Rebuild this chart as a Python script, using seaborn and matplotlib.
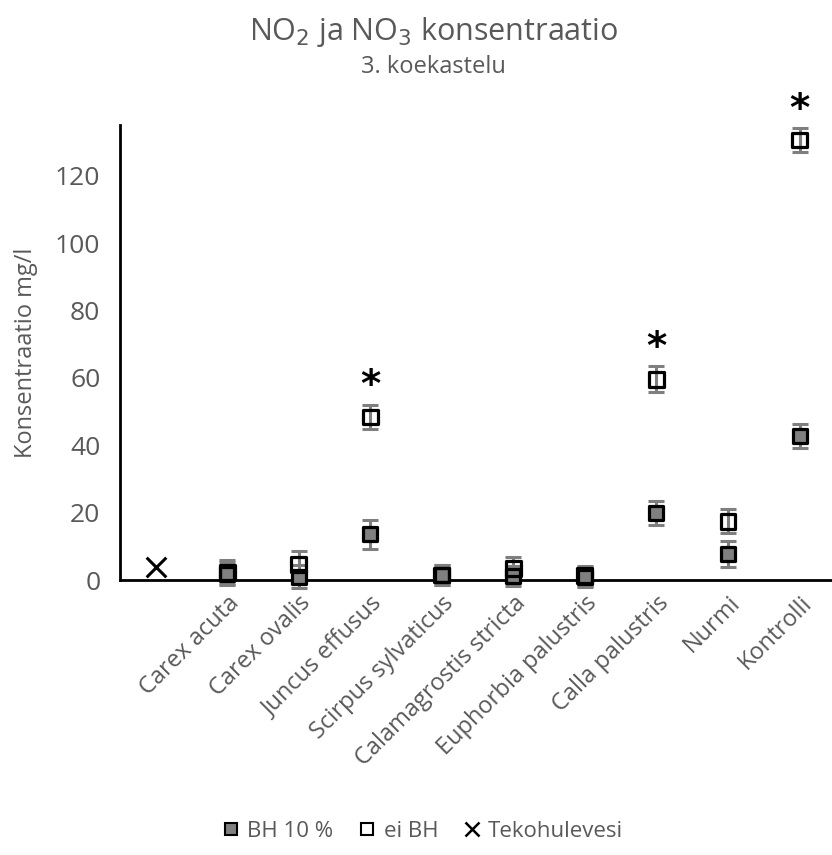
import matplotlib
matplotlib.use("Agg")
import matplotlib.pyplot as plt
import seaborn as sns
import pandas as pd
import numpy as np
from matplotlib.lines import Line2D

categories = ["", "Carex acuta", "Carex ovalis", "Juncus effusus", "Scirpus sylvaticus",
              "Calamagrostis stricta", "Euphorbia palustris", "Calla palustris", "Nurmi", "Kontrolli"]
bh_cats = categories[1:]
bh_vals = [1.9, 1.0, 13.6, 1.5, 1.2, 1.0, 19.8, 7.7, 42.8]
bh_err = [3.5, 3.5, 4.3, 3.0, 3.0, 3.0, 3.6, 3.9, 3.5]
ei_vals = [2.3, 4.5, 48.4, 1.5, 3.5, 1.3, 59.6, 17.5, 130.6]
ei_err = [3.5, 4.0, 3.6, 3.0, 3.3, 3.0, 3.9, 3.6, 3.5]
teko_cat = [""]
teko_val = [4.0]
star_cats = ["Juncus effusus", "Calla palustris", "Kontrolli"]

sns.set_style("white")
plt.rcParams['font.family'] = ['Open Sans', 'DejaVu Sans']
txt = "#595959"

fig = plt.figure(figsize=(8.32, 8.55), dpi=100)
ax = fig.add_axes([0.144, 0.3216, 0.86, 0.532])

df_bh = pd.DataFrame({"cat": pd.Categorical(bh_cats, categories=categories), "val": bh_vals})
df_ei = pd.DataFrame({"cat": pd.Categorical(bh_cats, categories=categories), "val": ei_vals})
df_t = pd.DataFrame({"cat": pd.Categorical(teko_cat, categories=categories), "val": teko_val})

pos = {c: i for i, c in enumerate(categories)}
xb = [pos[c] for c in bh_cats]

ax.errorbar(xb, bh_vals, yerr=bh_err, fmt="none", ecolor="#7f7f7f", elinewidth=2.2,
            capsize=6, capthick=2.2, zorder=2, clip_on=False)
ax.errorbar(xb, ei_vals, yerr=ei_err, fmt="none", ecolor="#7f7f7f", elinewidth=2.2,
            capsize=6, capthick=2.2, zorder=2, clip_on=False)

sns.scatterplot(data=df_bh, x="cat", y="val", ax=ax, marker="s", s=115, color="#808080",
                edgecolor="black", linewidth=2.3, zorder=3, clip_on=False)
sns.scatterplot(data=df_ei, x="cat", y="val", ax=ax, marker="s", s=115, color="white",
                edgecolor="black", linewidth=2.3, zorder=4, clip_on=False)
sns.scatterplot(data=df_t, x="cat", y="val", ax=ax, marker="x", s=200, color="black",
                linewidth=2.2, zorder=5, clip_on=False)
for coll in ax.collections[-2:-1]:
    coll.set_facecolor("none")

for c in star_cats:
    i = bh_cats.index(c)
    ax.text(pos[c], ei_vals[i] + ei_err[i] + 5.5, "*", ha="center", va="center",
            fontsize=28, fontweight="bold", color="black", family="DejaVu Sans")

ax.set_xlim(-0.5, 9.5)
ax.set_ylim(0, 135)
ax.set_yticks([0, 20, 40, 60, 80, 100, 120])
ax.tick_params(axis="y", labelsize=19, colors=txt, length=0, pad=14)
ax.tick_params(axis="x", labelsize=17, colors=txt, length=0, pad=8)
ax.set_xticks(range(len(categories)))
ax.set_xticklabels(categories, rotation=45, ha="right", rotation_mode="anchor")
ax.set_xlabel("")
ax.set_ylabel("Konsentraatio mg/l", fontsize=17, color=txt, labelpad=12)
for s in ["top", "right"]:
    ax.spines[s].set_visible(False)
ax.spines["left"].set_color("black")
ax.spines["bottom"].set_color("black")
ax.spines["left"].set_linewidth(2)
ax.spines["bottom"].set_linewidth(2)

fig.text(0.521, 0.962, r"NO$_2$ ja NO$_3$ konsentraatio", ha="center", va="center",
         fontsize=22, color=txt)
fig.text(0.521, 0.922, "3. koekastelu", ha="center", va="center", fontsize=17, color=txt)

handles = [
    Line2D([], [], marker="s", linestyle="none", markersize=8, markerfacecolor="#808080",
           markeredgecolor="black", markeredgewidth=1.5),
    Line2D([], [], marker="s", linestyle="none", markersize=8, markerfacecolor="white",
           markeredgecolor="black", markeredgewidth=1.5),
    Line2D([], [], marker="x", linestyle="none", markersize=10, color="black", markeredgewidth=1.8),
]
fig.legend(handles, ["BH 10 %", "ei BH", "Tekohulevesi"], loc="center",
           bbox_to_anchor=(0.508, 0.028), ncol=3, frameon=False, fontsize=16,
           handlelength=0.8, handletextpad=0.35, columnspacing=1.1, labelcolor=txt)

fig.savefig("out.png", dpi=100)
